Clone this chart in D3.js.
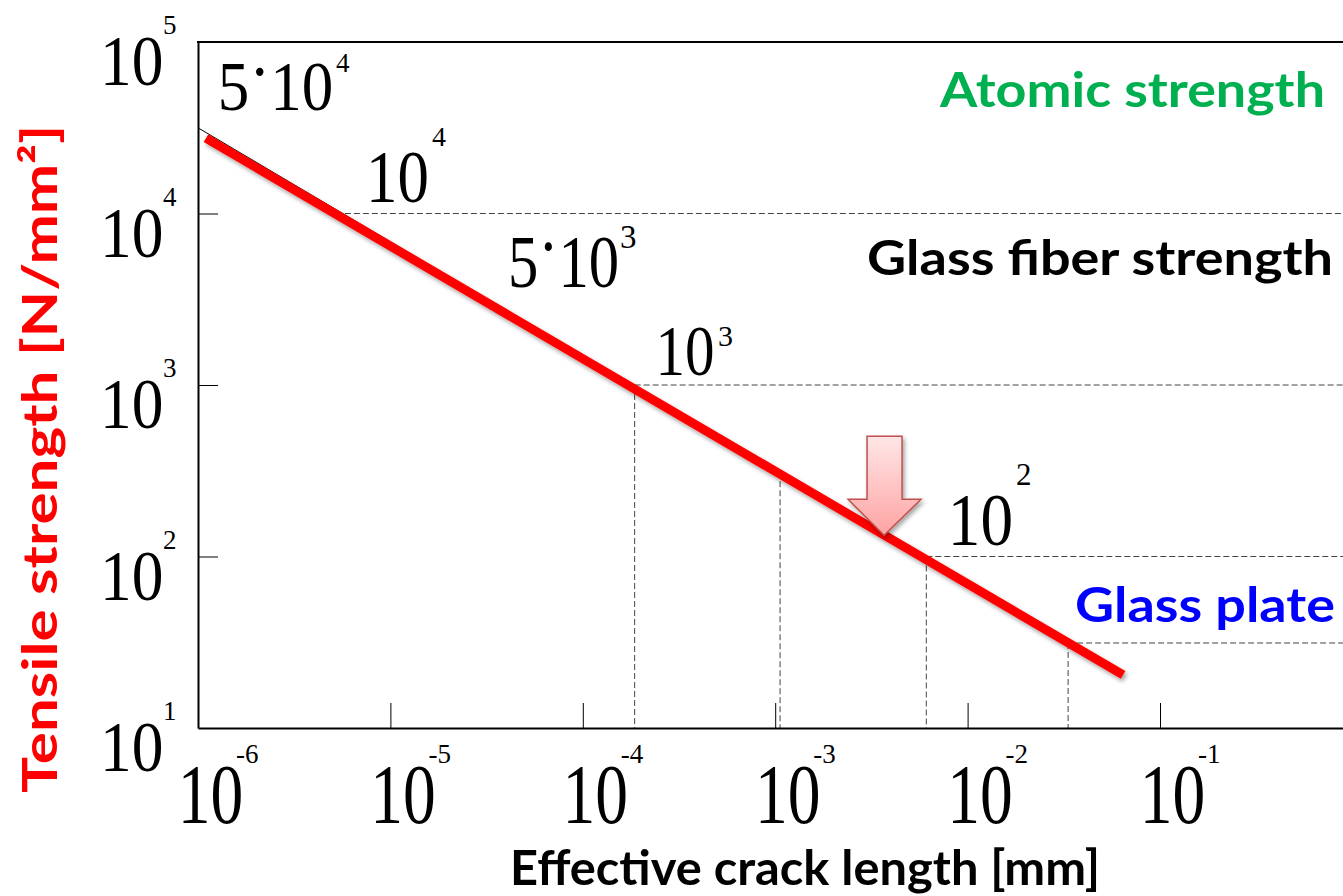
<!DOCTYPE html>
<html>
<head>
<meta charset="utf-8">
<script src="https://cdn.jsdelivr.net/npm/d3@7"></script>
<style>
  html, body { margin: 0; padding: 0; background: #fff; }
  svg { display: block; }
</style>
</head>
<body>
<svg id="chart" width="1343" height="896"></svg>
<script>
// Griffith-type relation: tensile strength vs. effective crack length (log-log)

// Axis ticks
const xTickValues = [1e-6, 1e-5, 1e-4, 1e-3, 1e-2, 1e-1];
const xTickExp = ["-6", "-5", "-4", "-3", "-2", "-1"];
const yTickValues = [1e1, 1e2, 1e3, 1e4, 1e5];
const yTickExp = ["1", "2", "3", "4", "5"];

// Strength curve (red) and the thin reference line beneath it
const curveCrack = [1.1e-6, 6.43e-2];
const curveStrength = [27500, 20.4];
const refCrack = [1e-6, 3.33e-2];
const refStrength = [31600, 31.3];

// Dashed guides: point on the line, with a horizontal and/or vertical dashed leg
const guideCrack = [5.8e-6, 1.86e-4, 1.06e-3, 6.1e-3, 3.33e-2];
const guideStrength = [1e4, 1e3, 310, 1e2, 31.3];
const guideHoriz = [true, true, false, true, true];
const guideVert = [false, true, true, true, true];

// Value annotations along the line
const annotBase = ["5·10", "10", "5·10", "10", "10"];
const annotExp = ["4", "4", "3", "3", "2"];

// Region labels
const regionText = ["Atomic strength", "Glass fiber strength", "Glass plate"];
const regionColor = ["#00b050", "#000000", "#0000ff"];

// Arrow marker tip
const arrowCrack = 3.68e-3;
const arrowStrength = 133;

const svg = d3.select("#chart");
const W = 1343;

const x = d3.scaleLog().domain([1e-6, 1]).range([198, 198 + 6 * 192.4]);
const y = d3.scaleLog().domain([10, 1e5]).range([728, 42]);

const serif = "'Liberation Serif', 'Times New Roman', serif";
const sans = "Lato, 'Open Sans', sans-serif";

const defs = svg.append("defs");
const shadow = defs.append("filter").attr("id", "shadow")
  .attr("x", "-10%").attr("y", "-10%").attr("width", "130%").attr("height", "130%");
shadow.append("feDropShadow").attr("dx", 2).attr("dy", 3).attr("stdDeviation", 2)
  .attr("flood-color", "#000").attr("flood-opacity", 0.35);
const grad = defs.append("linearGradient").attr("id", "arrowFill")
  .attr("x1", 0).attr("y1", 0).attr("x2", 0).attr("y2", 1);
grad.append("stop").attr("offset", "0%").attr("stop-color", "#ffe6e6");
grad.append("stop").attr("offset", "100%").attr("stop-color", "#ffa3a3");

// Dashed guides
const dash = "6,3";
guideCrack.forEach((c, i) => {
  if (guideHoriz[i]) {
    svg.append("line")
      .attr("x1", x(c)).attr("x2", W)
      .attr("y1", y(guideStrength[i])).attr("y2", y(guideStrength[i]))
      .attr("stroke", "#444").attr("stroke-width", 1).attr("stroke-dasharray", dash);
  }
  if (guideVert[i]) {
    svg.append("line")
      .attr("x1", x(c)).attr("x2", x(c))
      .attr("y1", y(guideStrength[i])).attr("y2", y(10))
      .attr("stroke", "#444").attr("stroke-width", 1).attr("stroke-dasharray", dash);
  }
});

// Axes (ticks point inward)
const xAxis = d3.axisBottom(x)
  .tickValues(xTickValues.slice(1))
  .tickSizeInner(-25).tickSizeOuter(0).tickFormat("");
const gx = svg.append("g").attr("transform", `translate(0,${y(10)})`).call(xAxis);
gx.select(".domain").attr("stroke", "#000").attr("stroke-width", 2);
gx.selectAll(".tick line").attr("stroke", "#000").attr("stroke-width", 1);

const yAxis = d3.axisLeft(y)
  .tickValues([1e2, 1e3, 1e4])
  .tickSizeInner(-20).tickSizeOuter(0).tickFormat("");
const gy = svg.append("g").attr("transform", `translate(${x(1e-6)},0)`).call(yAxis);
gy.select(".domain").attr("stroke", "#000").attr("stroke-width", 2);
gy.selectAll(".tick line").attr("stroke", "#000").attr("stroke-width", 1);

// Top frame line
svg.append("line")
  .attr("x1", x(1e-6) - 1).attr("x2", W)
  .attr("y1", y(1e5)).attr("y2", y(1e5))
  .attr("stroke", "#000").attr("stroke-width", 2);

// Power-of-ten label: compressed base digits plus an exponent
function power(base, exp, inkLeft, baseline, size, sx, expLeft, expBaseline, expSize) {
  const g = svg.append("g")
    .attr("transform", `translate(${inkLeft},${baseline}) scale(${sx},1)`);
  const t = g.append("text")
    .attr("x", base.startsWith("5") ? -0.05 * size : -0.111 * size)
    .attr("y", 0)
    .attr("font-family", serif).attr("font-size", size).attr("fill", "#000");
  if (base.startsWith("5")) {
    t.append("tspan").text("5");
    t.append("tspan").attr("dy", -0.22 * size).text("·");
    t.append("tspan").attr("dy", 0.22 * size).text(base.slice(2));
  } else {
    t.text(base);
  }
  svg.append("text")
    .attr("x", expLeft - 2).attr("y", expBaseline)
    .attr("font-family", serif).attr("font-size", expSize).attr("fill", "#000")
    .text(exp);
}

// x tick labels
xTickValues.forEach((v, i) => {
  const px = x(v);
  power("10", xTickExp[i], px - 13, 823, 84, 0.78, px + 40, 763, 27);
});

// y tick labels
yTickValues.forEach((v, i) => {
  const py = y(v);
  power("10", yTickExp[i], 107, py + 43, 72, 0.88, 165, py - 8, 27);
});

// Reference thin line and red strength line
const line = d3.line().x(d => x(d[0])).y(d => y(d[1]));
svg.append("path")
  .datum(refCrack.map((c, i) => [c, refStrength[i]]))
  .attr("d", line).attr("fill", "none").attr("stroke", "#000").attr("stroke-width", 1);
svg.append("path")
  .datum(curveCrack.map((c, i) => [c, curveStrength[i]]))
  .attr("d", line).attr("fill", "none")
  .attr("stroke", "#ff0000").attr("stroke-width", 9).attr("stroke-linecap", "butt")
  .attr("filter", "url(#shadow)");

// Value annotations
const annotLayout = [
  { ink: [221, 110], exp: [338, 72], size: 70, sx: 0.9, expSize: 27 },
  { ink: [373, 202], exp: [434, 146], size: 74, sx: 0.85, expSize: 28 },
  { ink: [511, 287], exp: [622, 248], size: 74, sx: 0.82, expSize: 33 },
  { ink: [662, 375], exp: [720, 346], size: 72, sx: 0.82, expSize: 30 },
  { ink: [955, 545], exp: [1018, 485], size: 75, sx: 0.87, expSize: 31 }
];
annotBase.forEach((b, i) => {
  const L = annotLayout[i];
  power(b, annotExp[i], L.ink[0], L.ink[1], L.size, L.sx, L.exp[0], L.exp[1], L.expSize);
});

// Downward arrow marking the line
const ax = x(arrowCrack), ay = y(arrowStrength);
const arrowShape = [[0, 0], [37, -36], [18, -36], [18, -99], [-17, -99], [-17, -36], [-36, -36]];
svg.append("polygon")
  .attr("points", arrowShape.map(p => [ax + p[0], ay + p[1]].join(",")).join(" "))
  .attr("fill", "url(#arrowFill)").attr("stroke", "#c0504d").attr("stroke-width", 1.5)
  .attr("stroke-linejoin", "miter")
  .attr("filter", "url(#shadow)");

// Region labels
const regionLayout = [
  { x: 940, y: 107, len: 385 },
  { x: 867, y: 275, len: 466 },
  { x: 1075, y: 622, len: 260 }
];
regionText.forEach((t, i) => {
  const L = regionLayout[i];
  svg.append("text")
    .attr("x", L.x).attr("y", L.y)
    .attr("font-family", sans).attr("font-weight", "bold").attr("font-size", 48)
    .attr("fill", regionColor[i])
    .attr("textLength", L.len).attr("lengthAdjust", "spacingAndGlyphs")
    .text(t);
});

// Axis titles
svg.append("text")
  .attr("x", 510).attr("y", 885)
  .attr("font-family", sans).attr("font-weight", "bold").attr("font-size", 48)
  .attr("fill", "#000")
  .attr("textLength", 590).attr("lengthAdjust", "spacingAndGlyphs")
  .text("Effective crack length [mm]");

svg.append("text")
  .attr("transform", "translate(57,793) rotate(-90)")
  .attr("x", 0).attr("y", 0)
  .attr("font-family", sans).attr("font-weight", "bold").attr("font-size", 48)
  .attr("fill", "#ff0000")
  .attr("textLength", 668).attr("lengthAdjust", "spacingAndGlyphs")
  .text("Tensile strength [N/mm²]");
</script>
</body>
</html>
